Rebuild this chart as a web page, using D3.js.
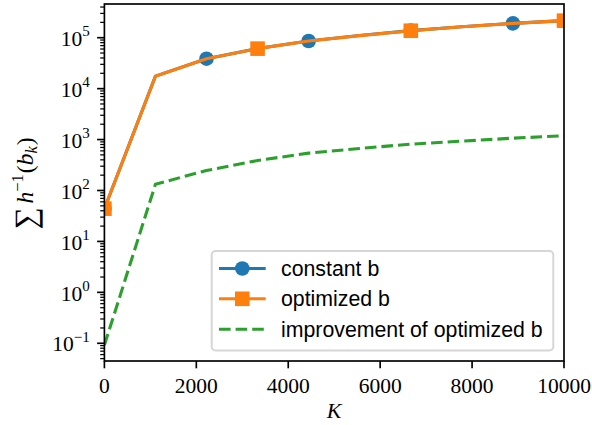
<!DOCTYPE html>
<html>
<head>
<meta charset="utf-8">
<script src="https://cdn.jsdelivr.net/npm/d3@7"></script>
<style>
  html, body { margin: 0; padding: 0; background: #fff; }
  svg { display: block; }
</style>
</head>
<body>
<svg id="chart" width="592" height="425"></svg>
<script>
// ---- data ----
const K = [0, 1111, 2222, 3333, 4444, 5556, 6667, 7778, 8889, 10000];
const constantB = [44, 17600, 38700, 61300, 86300, 110500, 137600, 164500, 191500, 216500];
const optimizedB = [44, 17500, 38500, 61000, 86000, 110000, 137000, 164000, 191000, 216000];
const improvement = [0.092, 133, 247, 388, 541, 668, 813, 930, 1065, 1190];
const xTicks = [0, 2000, 4000, 6000, 8000, 10000];
const yTickExps = [-1, 0, 1, 2, 3, 4, 5];
const seriesNames = ["constant b", "optimized b", "improvement of optimized b"];
const colors = ["#1f77b4", "#ff7f0e", "#2ca02c"];

// ---- layout ----
const pL = 104.4, pR = 564, pT = 4, pB = 361;
const svg = d3.select("#chart");
const x = d3.scaleLinear().domain([0, 10000]).range([pL, pR]);
const y = d3.scaleLog().domain([0.0449, 4.59e5]).range([pB, pT]);

svg.append("defs").append("clipPath").attr("id", "clip")
  .append("rect").attr("x", pL).attr("y", pT)
  .attr("width", pR - pL).attr("height", pB - pT);

const serif = "'Liberation Serif', 'Times New Roman', serif";
const sans = "'Liberation Sans', Arial, Helvetica, sans-serif";

// ---- data lines ----
const plot = svg.append("g").attr("clip-path", "url(#clip)");
const line = d3.line().x(d => x(d[0])).y(d => y(d[1]));
const zip = vals => K.map((k, i) => [k, vals[i]]);

// constant b
plot.append("path").datum(zip(constantB))
  .attr("d", line).attr("fill", "none")
  .attr("stroke", colors[0]).attr("stroke-width", 3.1)
  .attr("stroke-linejoin", "round").attr("stroke-linecap", "square");
plot.selectAll("circle.c").data(zip(constantB).filter((d, i) => i % 2 === 0))
  .enter().append("circle")
  .attr("cx", d => x(d[0])).attr("cy", d => y(d[1]))
  .attr("r", 7.3).attr("fill", colors[0]);

// optimized b
plot.append("path").datum(zip(optimizedB))
  .attr("d", line).attr("fill", "none")
  .attr("stroke", colors[1]).attr("stroke-width", 3.1)
  .attr("stroke-linejoin", "round").attr("stroke-linecap", "square");
plot.selectAll("rect.s").data(zip(optimizedB).filter((d, i) => i % 3 === 0))
  .enter().append("rect")
  .attr("x", d => x(d[0]) - 7.3).attr("y", d => y(d[1]) - 7.3)
  .attr("width", 14.6).attr("height", 14.6).attr("fill", colors[1]);

// improvement
plot.append("path").datum(zip(improvement))
  .attr("d", line).attr("fill", "none")
  .attr("stroke", colors[2]).attr("stroke-width", 3.1)
  .attr("stroke-dasharray", "11.6,5");

// ---- axes ----
const axes = svg.append("g");
const [lo, hi] = y.domain();
const minor = [];
for (let e = Math.floor(Math.log10(lo)); e <= Math.ceil(Math.log10(hi)); e++) {
  for (let m = 2; m <= 9; m++) {
    const v = m * Math.pow(10, e);
    if (v >= lo && v <= hi) minor.push(v);
  }
}
axes.selectAll("line.minor").data(minor).enter().append("line")
  .attr("x1", pL - 4.2).attr("x2", pL)
  .attr("y1", d => y(d)).attr("y2", d => y(d))
  .attr("stroke", "#000").attr("stroke-width", 1.25);
axes.selectAll("line.ymaj").data(yTickExps).enter().append("line")
  .attr("x1", pL - 7.3).attr("x2", pL)
  .attr("y1", d => y(Math.pow(10, d))).attr("y2", d => y(Math.pow(10, d)))
  .attr("stroke", "#000").attr("stroke-width", 1.67);
const yl = axes.selectAll("text.ylab").data(yTickExps).enter().append("text")
  .attr("x", pL - 14.6).attr("y", d => y(Math.pow(10, d)) + 8.2)
  .attr("text-anchor", "end").attr("font-family", serif)
  .attr("font-size", 21.5).attr("fill", "#000");
yl.append("tspan").text("10");
yl.append("tspan").attr("dy", -9.5).attr("font-size", 15)
  .text(d => String(d).replace("-", "\u2212"));

axes.selectAll("line.xmaj").data(xTicks).enter().append("line")
  .attr("x1", d => x(d)).attr("x2", d => x(d))
  .attr("y1", pB).attr("y2", pB + 7.3)
  .attr("stroke", "#000").attr("stroke-width", 1.67);
axes.selectAll("text.xlab").data(xTicks).enter().append("text")
  .attr("x", d => x(d)).attr("y", 392.5)
  .attr("text-anchor", "middle").attr("font-family", serif)
  .attr("font-size", 21.5).attr("fill", "#000")
  .text(d => String(d));

axes.append("rect").attr("x", pL).attr("y", pT)
  .attr("width", pR - pL).attr("height", pB - pT)
  .attr("fill", "none").attr("stroke", "#000").attr("stroke-width", 1.67);

// axis labels
svg.append("text").attr("x", (pL + pR) / 2).attr("y", 418)
  .attr("text-anchor", "middle").attr("font-family", serif)
  .attr("font-style", "italic").attr("font-size", 22).text("K");

const ylab = svg.append("text")
  .attr("transform", `translate(33,${(pT + pB) / 2 + 1}) rotate(-90)`)
  .attr("text-anchor", "middle").attr("font-family", serif)
  .attr("font-size", 23.5).attr("fill", "#000");
ylab.append("tspan").attr("font-size", 31).attr("dy", 3).text("\u2211");
ylab.append("tspan").attr("dy", -3).attr("dx", 4).attr("font-style", "italic").text("h");
ylab.append("tspan").attr("dy", -10).attr("font-size", 16.5).text("\u22121");
ylab.append("tspan").attr("dy", 10).attr("dx", 1).text("(");
ylab.append("tspan").attr("font-style", "italic").text("b");
ylab.append("tspan").attr("dy", 4).attr("font-size", 16.5).attr("font-style", "italic").text("k");
ylab.append("tspan").attr("dy", -4).attr("dx", 1).text(")");

// ---- legend ----
const lg = svg.append("g");
lg.append("rect").attr("x", 211.7).attr("y", 251).attr("width", 341.6).attr("height", 99.5)
  .attr("rx", 4).attr("ry", 4).attr("fill", "#fff").attr("fill-opacity", 0.8)
  .attr("stroke", "#d6d6d6").attr("stroke-width", 2);
const rowY = [268.5, 298.8, 329.3];
seriesNames.forEach((name, i) => {
  const g = lg.append("g");
  const ln = g.append("line").attr("x1", 219).attr("x2", 265.7)
    .attr("y1", rowY[i]).attr("y2", rowY[i])
    .attr("stroke", colors[i]).attr("stroke-width", 3.1);
  if (i === 2) ln.attr("stroke-dasharray", "11.6,5");
  if (i === 0) g.append("circle").attr("cx", 242.3).attr("cy", rowY[i]).attr("r", 7.3).attr("fill", colors[i]);
  if (i === 1) g.append("rect").attr("x", 242.3 - 7.3).attr("y", rowY[i] - 7.3)
    .attr("width", 14.6).attr("height", 14.6).attr("fill", colors[i]);
  g.append("text").attr("x", 281).attr("y", rowY[i] + 7.5)
    .attr("font-family", sans).attr("font-size", 21.3).attr("fill", "#000")
    .text(name);
});
</script>
</body>
</html>
